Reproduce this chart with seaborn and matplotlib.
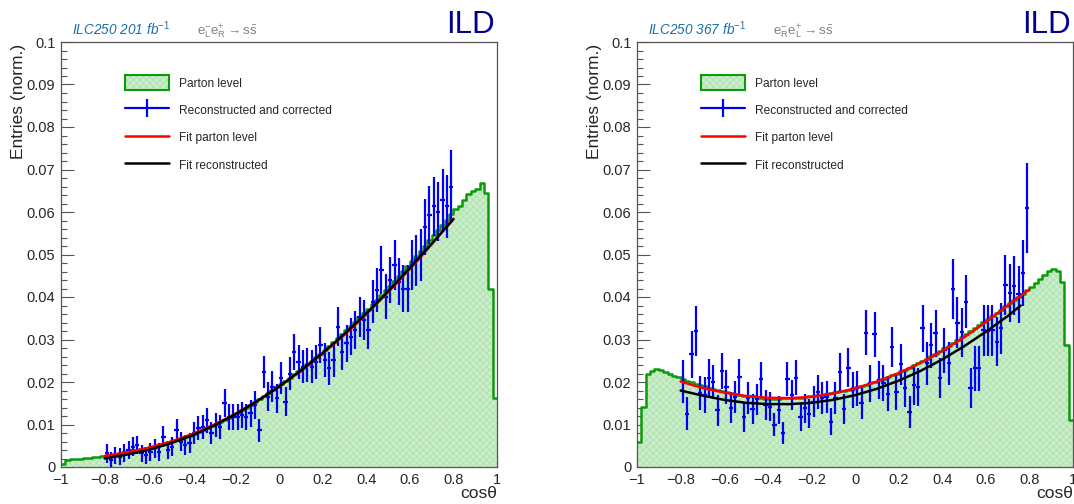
import numpy as np
import matplotlib
matplotlib.use("Agg")
import matplotlib.pyplot as plt
from matplotlib.ticker import MultipleLocator, FuncFormatter
from matplotlib.patches import Patch
from matplotlib.lines import Line2D
import seaborn as sns

# Parton level histograms: 100 bins of width 0.02 from -1 to 1
parton_left = [
    0.0006, 0.0017, 0.0019, 0.0020, 0.0020, 0.0021, 0.0022, 0.0023, 0.0024, 0.0026,
    0.0027, 0.0029, 0.0031, 0.0033, 0.0035, 0.0037, 0.0039, 0.0040, 0.0042, 0.0044,
    0.0046, 0.0049, 0.0052, 0.0055, 0.0058, 0.0061, 0.0064, 0.0067, 0.0071, 0.0074,
    0.0078, 0.0082, 0.0087, 0.0091, 0.0096, 0.0101, 0.0106, 0.0111, 0.0116, 0.0122,
    0.0128, 0.0134, 0.0140, 0.0146, 0.0153, 0.0160, 0.0167, 0.0174, 0.0181, 0.0188,
    0.0195, 0.0202, 0.0210, 0.0218, 0.0226, 0.0234, 0.0242, 0.0250, 0.0259, 0.0267,
    0.0276, 0.0285, 0.0294, 0.0303, 0.0312, 0.0322, 0.0332, 0.0342, 0.0352, 0.0362,
    0.0372, 0.0383, 0.0394, 0.0405, 0.0416, 0.0427, 0.0438, 0.0449, 0.0461, 0.0473,
    0.0485, 0.0497, 0.0509, 0.0521, 0.0533, 0.0545, 0.0557, 0.0569, 0.0581, 0.0595,
    0.0606, 0.0615, 0.0628, 0.0642, 0.0650, 0.0654, 0.0668, 0.0645, 0.0420, 0.0162,
]
parton_right = [
    0.0060, 0.0142, 0.0218, 0.0226, 0.0230, 0.0228, 0.0224, 0.0219, 0.0214, 0.0211,
    0.0207, 0.0203, 0.0199, 0.0196, 0.0193, 0.0190, 0.0187, 0.0184, 0.0181, 0.0179,
    0.0177, 0.0175, 0.0172, 0.0170, 0.0168, 0.0167, 0.0166, 0.0164, 0.0162, 0.0161,
    0.0160, 0.0160, 0.0161, 0.0162, 0.0162, 0.0163, 0.0162, 0.0163, 0.0165, 0.0166,
    0.0167, 0.0169, 0.0170, 0.0172, 0.0173, 0.0176, 0.0178, 0.0180, 0.0182, 0.0185,
    0.0188, 0.0191, 0.0194, 0.0197, 0.0200, 0.0204, 0.0208, 0.0212, 0.0216, 0.0220,
    0.0225, 0.0229, 0.0234, 0.0239, 0.0244, 0.0249, 0.0255, 0.0261, 0.0267, 0.0273,
    0.0279, 0.0285, 0.0292, 0.0299, 0.0306, 0.0313, 0.0320, 0.0327, 0.0334, 0.0341,
    0.0348, 0.0356, 0.0363, 0.0370, 0.0378, 0.0385, 0.0393, 0.0401, 0.0408, 0.0416,
    0.0424, 0.0432, 0.0442, 0.0452, 0.0461, 0.0465, 0.0462, 0.0436, 0.0287, 0.0110,
]

# Reconstructed and corrected: 80 bins of width 0.02 from -0.8 to 0.8
reco_left = [
    0.0032, 0.0016, 0.0028, 0.0024, 0.0032, 0.0040, 0.0048, 0.0052, 0.0032, 0.0028,
    0.0036, 0.0044, 0.0036, 0.0071, 0.0040, 0.0048, 0.0087, 0.0060, 0.0052, 0.0056,
    0.0079, 0.0091, 0.0095, 0.0110, 0.0079, 0.0099, 0.0095, 0.0150, 0.0118, 0.0118,
    0.0118, 0.0122, 0.0118, 0.0126, 0.0146, 0.0087, 0.0224, 0.0165, 0.0189, 0.0162,
    0.0209, 0.0154, 0.0220, 0.0271, 0.0248, 0.0236, 0.0240, 0.0236, 0.0248, 0.0287,
    0.0252, 0.0232, 0.0252, 0.0330, 0.0271, 0.0291, 0.0307, 0.0322, 0.0354, 0.0346,
    0.0322, 0.0389, 0.0416, 0.0464, 0.0401, 0.0440, 0.0475, 0.0436, 0.0420, 0.0420,
    0.0475, 0.0487, 0.0499, 0.0565, 0.0593, 0.0613, 0.0601, 0.0628, 0.0613, 0.0660,
]
reco_left_err = [
    0.0022, 0.0020, 0.0020, 0.0020, 0.0021, 0.0021, 0.0022, 0.0022, 0.0020, 0.0020,
    0.0021, 0.0022, 0.0021, 0.0025, 0.0021, 0.0022, 0.0027, 0.0023, 0.0023, 0.0024,
    0.0026, 0.0028, 0.0028, 0.0030, 0.0026, 0.0028, 0.0028, 0.0033, 0.0030, 0.0030,
    0.0030, 0.0030, 0.0030, 0.0031, 0.0032, 0.0027, 0.0038, 0.0034, 0.0036, 0.0034,
    0.0038, 0.0034, 0.0038, 0.0042, 0.0040, 0.0039, 0.0039, 0.0039, 0.0040, 0.0043,
    0.0040, 0.0039, 0.0040, 0.0046, 0.0042, 0.0043, 0.0044, 0.0045, 0.0047, 0.0047,
    0.0045, 0.0050, 0.0052, 0.0056, 0.0052, 0.0055, 0.0058, 0.0055, 0.0055, 0.0055,
    0.0058, 0.0060, 0.0061, 0.0066, 0.0068, 0.0070, 0.0070, 0.0073, 0.0073, 0.0086,
]
reco_right = [
    0.0201, 0.0125, 0.0265, 0.0321, 0.0173, 0.0169, 0.0210, 0.0199, 0.0133, 0.0226,
    0.0188, 0.0140, 0.0165, 0.0211, 0.0117, 0.0162, 0.0136, 0.0159, 0.0206, 0.0146,
    0.0142, 0.0100, 0.0134, 0.0081, 0.0207, 0.0169, 0.0210, 0.0118, 0.0138, 0.0125,
    0.0154, 0.0177, 0.0162, 0.0165, 0.0107, 0.0162, 0.0224, 0.0136, 0.0234, 0.0181,
    0.0185, 0.0150, 0.0316, 0.0197, 0.0312, 0.0205, 0.0198, 0.0171, 0.0283, 0.0177,
    0.0242, 0.0185, 0.0130, 0.0193, 0.0189, 0.0326, 0.0244, 0.0287, 0.0315, 0.0209,
    0.0275, 0.0244, 0.0419, 0.0340, 0.0317, 0.0389, 0.0185, 0.0232, 0.0232, 0.0322,
    0.0321, 0.0322, 0.0295, 0.0326, 0.0428, 0.0410, 0.0427, 0.0406, 0.0456, 0.0609,
]
reco_right_err = [
    0.0051, 0.0039, 0.0055, 0.0059, 0.0040, 0.0043, 0.0043, 0.0040, 0.0036, 0.0043,
    0.0040, 0.0036, 0.0038, 0.0043, 0.0035, 0.0038, 0.0035, 0.0036, 0.0042, 0.0035,
    0.0034, 0.0028, 0.0032, 0.0026, 0.0041, 0.0036, 0.0041, 0.0033, 0.0034, 0.0034,
    0.0037, 0.0040, 0.0037, 0.0038, 0.0031, 0.0038, 0.0045, 0.0035, 0.0046, 0.0042,
    0.0042, 0.0038, 0.0053, 0.0044, 0.0052, 0.0044, 0.0043, 0.0040, 0.0047, 0.0042,
    0.0048, 0.0044, 0.0038, 0.0046, 0.0045, 0.0055, 0.0050, 0.0053, 0.0055, 0.0047,
    0.0053, 0.0050, 0.0070, 0.0060, 0.0058, 0.0063, 0.0047, 0.0052, 0.0052, 0.0060,
    0.0060, 0.0060, 0.0058, 0.0060, 0.0070, 0.0068, 0.0070, 0.0068, 0.0077, 0.0106,
]

# Fit curves, sampled every 0.1 in cos(theta)
fit_x = [-0.8, -0.7, -0.6, -0.5, -0.4, -0.3, -0.2, -0.1, 0.0,
         0.1, 0.2, 0.3, 0.4, 0.5, 0.6, 0.7, 0.8]
fit_parton_left = [0.0026, 0.0034, 0.0045, 0.0059, 0.0077, 0.0099, 0.0125, 0.0155, 0.0189,
                   0.0226, 0.0267, 0.0311, 0.0359, 0.0411, 0.0466, 0.0524, 0.0584]
fit_reco_left = [0.0020, 0.0029, 0.0040, 0.0055, 0.0074, 0.0097, 0.0124, 0.0155, 0.0189,
                 0.0227, 0.0268, 0.0313, 0.0361, 0.0413, 0.0468, 0.0525, 0.0583]
fit_parton_right = [0.0201, 0.0186, 0.0175, 0.0167, 0.0163, 0.0162, 0.0165, 0.0173, 0.0185,
                    0.0201, 0.0221, 0.0245, 0.0273, 0.0305, 0.0341, 0.0380, 0.0418]
fit_reco_right_x = [-0.8, -0.7, -0.6, -0.5, -0.4, -0.3, -0.2, -0.1, 0.0,
                    0.1, 0.2, 0.3, 0.4, 0.5, 0.6, 0.7, 0.76]
fit_reco_right = [0.0180, 0.0168, 0.0158, 0.0151, 0.0148, 0.0148, 0.0151, 0.0158, 0.0169,
                  0.0184, 0.0203, 0.0226, 0.0253, 0.0284, 0.0318, 0.0355, 0.0380]

lumi_labels = [r"ILC250 201 fb$^{\mathit{-1}}$", r"ILC250 367 fb$^{\mathit{-1}}$"]
process_labels = [r"$\mathrm{e}^{-}_{\mathrm{L}}\mathrm{e}^{+}_{\mathrm{R}}\rightarrow\mathrm{s}\bar{\mathrm{s}}$",
                  r"$\mathrm{e}^{-}_{\mathrm{R}}\mathrm{e}^{+}_{\mathrm{L}}\rightarrow\mathrm{s}\bar{\mathrm{s}}$"]
legend_labels = ["Parton level", "Reconstructed and corrected",
                 "Fit parton level", "Fit reconstructed"]

hist_edges = np.linspace(-1, 1, 101)
hist_centers = 0.5 * (hist_edges[1:] + hist_edges[:-1])
reco_edges = np.linspace(-0.8, 0.8, 81)
reco_centers = 0.5 * (reco_edges[1:] + reco_edges[:-1])

sns.set_theme(style="white")
plt.rcParams["font.family"] = ["Liberation Sans", "DejaVu Sans"]
plt.rcParams["mathtext.fontset"] = "custom"
plt.rcParams["mathtext.rm"] = "Liberation Sans"
plt.rcParams["mathtext.it"] = "Liberation Sans:italic"
plt.rcParams["hatch.linewidth"] = 0.6

GREEN = "#0a9a0a"
FILL = "#caedca"
HATCH = "#ade0ad"
FRAME = "#555555"
plt.rcParams["hatch.color"] = HATCH


def fmt_tick(v, pos):
    s = f"{round(v, 3):g}"
    if s == "-0":
        s = "0"
    return s.replace("-", "\u2212")


def plot_panel(ax, parton, reco, reco_err, fit_p, fit_r_x, fit_r, lumi, process):
    # parton level: hatched fill + green step outline
    sns.histplot(x=hist_centers, weights=parton, bins=100, binrange=(-1, 1),
                 element="step", fill=True, facecolor=FILL, edgecolor=HATCH,
                 linewidth=0, hatch="xxxxx", ax=ax)
    sns.histplot(x=hist_centers, weights=parton, bins=100, binrange=(-1, 1),
                 element="step", fill=False, color=GREEN, linewidth=1.8, ax=ax)

    # reconstructed points
    ax.errorbar(reco_centers, reco, yerr=reco_err, xerr=0.01, fmt="none",
                ecolor="#0000ff", elinewidth=1.6, capsize=0, zorder=4)

    # fits
    sns.lineplot(x=fit_x, y=fit_p, color="#ff0000", linewidth=1.8, ax=ax, zorder=5)
    sns.lineplot(x=fit_r_x, y=fit_r, color="black", linewidth=1.8, ax=ax, zorder=6)

    ax.set_xlim(-1, 1)
    ax.set_ylim(0, 0.1)
    ax.xaxis.set_major_locator(MultipleLocator(0.2))
    ax.xaxis.set_minor_locator(MultipleLocator(0.05))
    ax.yaxis.set_major_locator(MultipleLocator(0.01))
    ax.yaxis.set_minor_locator(MultipleLocator(0.002))
    ax.xaxis.set_major_formatter(FuncFormatter(fmt_tick))
    ax.yaxis.set_major_formatter(FuncFormatter(fmt_tick))
    ax.tick_params(axis="both", which="major", direction="in", length=9, width=0.8,
                   color=FRAME, labelsize=10.5, pad=4, bottom=True, left=True)
    ax.tick_params(axis="both", which="minor", direction="in", length=4.5, width=0.8,
                   color=FRAME, bottom=True, left=True)
    for sp in ax.spines.values():
        sp.set_color(FRAME)
        sp.set_linewidth(0.9)

    ax.set_ylabel("Entries (norm.)", loc="top", fontsize=12.5)
    ax.yaxis.set_label_coords(-0.08, 0.995)
    ax.set_xlabel("cos\u03b8", loc="right", fontsize=12.5)
    ax.xaxis.set_label_coords(1.0, -0.045)

    ax.text(0.025, 1.017, lumi, transform=ax.transAxes, fontsize=9.8,
            style="italic", color="#1a70aa", va="baseline")
    ax.text(0.312, 1.017, process, transform=ax.transAxes, fontsize=9.5,
            color="#808080", va="baseline")
    ax.text(0.995, 1.021, "ILD", transform=ax.transAxes, fontsize=22.5,
            color="#00008b", ha="right", va="baseline")

    handles = [
        (Patch(facecolor=FILL, edgecolor=HATCH, hatch="xxxxx", linewidth=0),
         Patch(facecolor="none", edgecolor=GREEN, linewidth=1.5)),
        Line2D([], [], color="#0000ff", linewidth=1.6, marker="|",
               markersize=13, markeredgewidth=1.6),
        Line2D([], [], color="#ff0000", linewidth=1.8),
        Line2D([], [], color="black", linewidth=1.8),
    ]
    ax.legend(handles, legend_labels, loc="upper left", bbox_to_anchor=(0.147, 0.922),
              frameon=False, fontsize=8.6, handlelength=3.7, handleheight=1.6,
              handletextpad=0.8, labelspacing=1.0, borderpad=0, borderaxespad=0)


fig = plt.figure(figsize=(10.74, 5.04), dpi=100)
ax1 = fig.add_axes([61 / 1074, 37 / 504, 436 / 1074, 425 / 504])
ax2 = fig.add_axes([637 / 1074, 37 / 504, 436 / 1074, 425 / 504])

plot_panel(ax1, parton_left, reco_left, reco_left_err, fit_parton_left,
           fit_x, fit_reco_left, lumi_labels[0], process_labels[0])
plot_panel(ax2, parton_right, reco_right, reco_right_err, fit_parton_right,
           fit_reco_right_x, fit_reco_right, lumi_labels[1], process_labels[1])

fig.savefig("out.png", dpi=100, facecolor="white")
